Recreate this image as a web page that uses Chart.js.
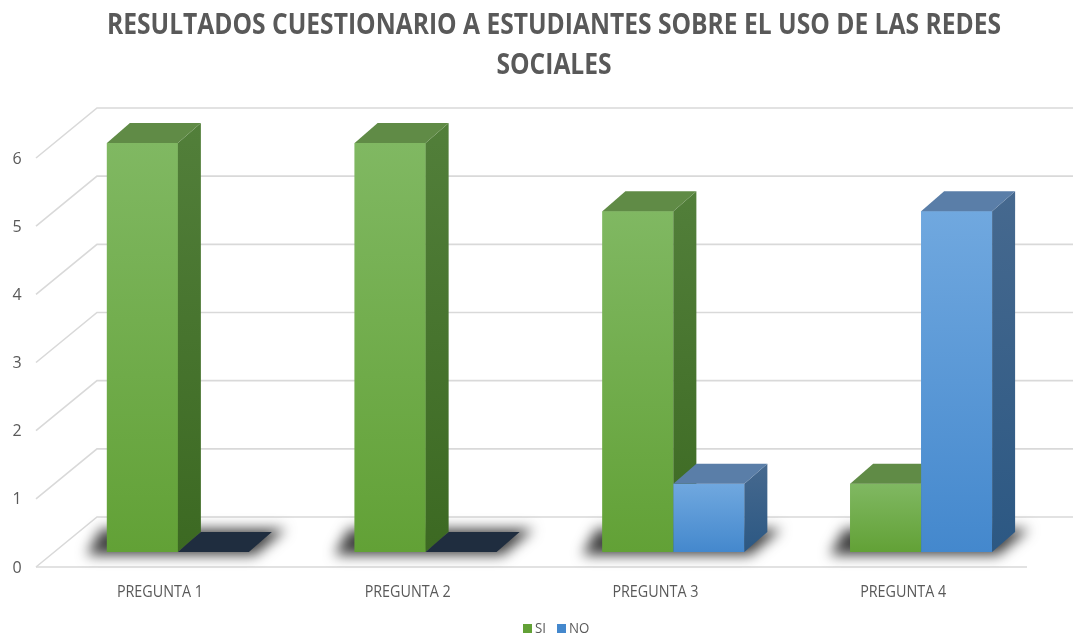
<!DOCTYPE html>
<html><head><meta charset="utf-8">
<script src="https://cdn.jsdelivr.net/npm/chart.js@4.4.1/dist/chart.umd.min.js"></script>
<style>html,body{margin:0;padding:0;background:#fff;overflow:hidden}canvas{display:block}</style>
</head><body>
<canvas id="c" width="1073" height="634"></canvas>
<script>
// ---- data ----
const titleLines = ['RESULTADOS CUESTIONARIO A ESTUDIANTES SOBRE EL USO DE LAS REDES', 'SOCIALES'];
const categories = ['PREGUNTA 1', 'PREGUNTA 2', 'PREGUNTA 3', 'PREGUNTA 4'];
const seriesNames = ['SI', 'NO'];
const seriesSI = [6, 6, 5, 1];
const seriesNO = [0, 0, 1, 5];
const yTicks = [0, 1, 2, 3, 4, 5, 6];

// ---- style ----
const FLOOR_FRONT = {dx: -18, dy: 15};
const FLOOR_BACK = {dx: 43, dy: -35};
const DEPTH = {dx: 23, dy: -20};
const TEXT = '#595959';
const GRID = '#d9d9d9';
const FONT = "'Liberation Sans Narrow','Open Sans','Liberation Sans',sans-serif";
const palette = {
  SI: {front: ['#80b862', '#62a136'], side: ['#527f3a', '#3c6922'], top: '#608b46', zero: '#1f2d3f'},
  NO: {front: ['#70a8df', '#4488cd'], side: ['#46698f', '#2c5883'], top: '#5a7ea8', zero: '#1f2d3f'}
};

function frontFill(name) {
  return (c) => {
    const chart = c.chart;
    const y = chart.scales && chart.scales.y;
    if (!y || typeof c.raw !== 'number') return palette[name].front[1];
    const top = y.getPixelForValue(c.raw), bot = y.getPixelForValue(0);
    if (!isFinite(top) || bot - top < 1) return palette[name].front[1];
    const g = chart.ctx.createLinearGradient(0, top, 0, bot);
    g.addColorStop(0, palette[name].front[0]);
    g.addColorStop(1, palette[name].front[1]);
    return g;
  };
}

function poly(ctx, pts) {
  ctx.beginPath();
  ctx.moveTo(pts[0][0], pts[0][1]);
  for (let i = 1; i < pts.length; i++) ctx.lineTo(pts[i][0], pts[i][1]);
  ctx.closePath();
}

function drawScaled(ctx, text, x, y, sx, align) {
  ctx.save();
  ctx.translate(x, y);
  ctx.scale(sx, 1);
  ctx.textAlign = align || 'center';
  ctx.fillText(text, 0, 0);
  ctx.restore();
}

const plugin3d = {
  id: 'bars3d',
  beforeDatasetsDraw(chart) {
    const {ctx, chartArea: a, scales: {x, y}} = chart;
    ctx.save();
    // walls / grid
    ctx.strokeStyle = GRID;
    ctx.lineWidth = 1.6;
    yTicks.forEach(v => {
      const py = y.getPixelForValue(v);
      ctx.beginPath();
      ctx.moveTo(a.left + FLOOR_FRONT.dx, py + FLOOR_FRONT.dy);
      ctx.lineTo(a.left + FLOOR_BACK.dx, py + FLOOR_BACK.dy);
      ctx.lineTo(a.right + FLOOR_BACK.dx, py + FLOOR_BACK.dy);
      ctx.stroke();
    });
    const p0 = y.getPixelForValue(0);
    ctx.beginPath();
    ctx.moveTo(a.left + FLOOR_FRONT.dx, p0 + FLOOR_FRONT.dy);
    ctx.lineTo(a.right + FLOOR_FRONT.dx, p0 + FLOOR_FRONT.dy);
    ctx.stroke();

    // y tick labels
    ctx.fillStyle = TEXT;
    ctx.font = '16px ' + FONT;
    ctx.textBaseline = 'alphabetic';
    yTicks.forEach(v => {
      const py = y.getPixelForValue(v);
      drawScaled(ctx, String(v), a.left + FLOOR_FRONT.dx - 19, py + FLOOR_FRONT.dy + 5.5, 1, 'center');
    });

    // category labels
    ctx.font = '16px ' + FONT;
    const sx = 86 / ctx.measureText(categories[0]).width;
    categories.forEach((c, i) => {
      const px = x.getPixelForValue(i);
      drawScaled(ctx, c, px + FLOOR_FRONT.dx, p0 + FLOOR_FRONT.dy + 30, Math.min(1.2, sx), 'center');
    });

    // floor shadows (one per category group)
    ctx.shadowColor = 'rgba(0,0,0,0.75)';
    ctx.shadowBlur = 13;
    ctx.shadowOffsetX = 10000;
    ctx.fillStyle = '#000';
    const metas = chart.data.datasets.map((d, di) => chart.getDatasetMeta(di));
    categories.forEach((c, i) => {
      let L = Infinity, R = -Infinity, b = 0;
      metas.forEach(m => {
        const el = m.data[i];
        L = Math.min(L, el.x - el.width / 2);
        R = Math.max(R, el.x + el.width / 2);
        b = el.base;
      });
      const o = 10000;
      poly(ctx, [[L - 20 - o, b + 3], [R + 6 - o, b + 3],
                 [R + DEPTH.dx + 14 - o, b - 23], [L - 6 - o, b - 23]]);
      ctx.fill();
    });
    ctx.restore();
  },
  afterDatasetsDraw(chart) {
    const ctx = chart.ctx;
    const metas = chart.data.datasets.map((d, di) => chart.getDatasetMeta(di));
    categories.forEach((c, i) => {
      metas.forEach((m, di) => {
        const pal = palette[chart.data.datasets[di].label];
        const el = m.data[i];
        el.draw(ctx);
        ctx.save();
        const top = el.y, base = el.base, w = el.width;
        const L = el.x - w / 2, R = el.x + w / 2;
        if (base - top > 0.5) {
          const g = ctx.createLinearGradient(0, top + DEPTH.dy, 0, base);
          g.addColorStop(0, pal.side[0]);
          g.addColorStop(1, pal.side[1]);
          ctx.fillStyle = g;
          poly(ctx, [[R, top], [R + DEPTH.dx, top + DEPTH.dy], [R + DEPTH.dx, base + DEPTH.dy], [R, base]]);
          ctx.fill();
          ctx.fillStyle = pal.top;
          poly(ctx, [[L, top], [R, top], [R + DEPTH.dx, top + DEPTH.dy], [L + DEPTH.dx, top + DEPTH.dy]]);
          ctx.fill();
        } else {
          ctx.fillStyle = pal.zero;
          poly(ctx, [[L, base], [R, base], [R + DEPTH.dx, base + DEPTH.dy], [L + DEPTH.dx, base + DEPTH.dy]]);
          ctx.fill();
        }
        ctx.restore();
      });
    });
  },
  afterDraw(chart) {
    const ctx = chart.ctx;
    ctx.save();
    // title
    ctx.fillStyle = TEXT;
    ctx.font = 'bold 29px ' + FONT;
    ctx.textBaseline = 'alphabetic';
    const s = 894 / ctx.measureText(titleLines[0]).width;
    drawScaled(ctx, titleLines[0], 554, 34, s, 'center');
    drawScaled(ctx, titleLines[1], 554, 74, s, 'center');
    // legend
    ctx.font = '14px ' + FONT;
    const ls = 11 / ctx.measureText('SI').width;
    let lx = 523;
    chart.data.datasets.forEach((ds) => {
      ctx.fillStyle = palette[ds.label].front[1];
      ctx.fillRect(lx, 624, 9, 9);
      ctx.fillStyle = TEXT;
      drawScaled(ctx, ds.label, lx + 12, 633, Math.min(1, ls), 'left');
      lx += 34;
    });
    ctx.restore();
  }
};

new Chart(document.getElementById('c'), {
  type: 'bar',
  data: {
    labels: categories,
    datasets: [
      {label: seriesNames[0], data: seriesSI, backgroundColor: frontFill('SI'), borderWidth: 0},
      {label: seriesNames[1], data: seriesNO, backgroundColor: frontFill('NO'), borderWidth: 0}
    ]
  },
  options: {
    responsive: false,
    devicePixelRatio: 1,
    animation: false,
    layout: {padding: {left: 54, right: 28, top: 143, bottom: 82}},
    datasets: {bar: {categoryPercentage: 0.573, barPercentage: 1.0}},
    scales: {
      x: {display: false, offset: true},
      y: {display: false, min: 0, max: 6}
    },
    plugins: {legend: {display: false}, title: {display: false}, tooltip: {enabled: false}}
  },
  plugins: [plugin3d]
});
</script>
</body></html>
